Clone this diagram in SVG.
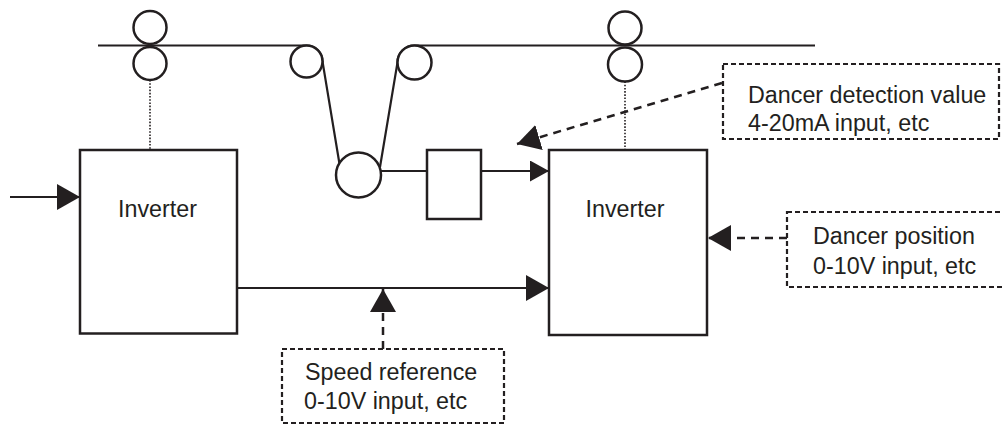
<svg xmlns="http://www.w3.org/2000/svg" width="1002" height="425" viewBox="0 0 1002 425">
  <style>
    .ln { fill: none; stroke: #231f20; stroke-width: 2.2; }
    .box { fill: #ffffff; stroke: #231f20; stroke-width: 2.5; }
    .roll { fill: #ffffff; stroke: #231f20; stroke-width: 2.5; }
    .dot { fill: none; stroke: #231f20; stroke-width: 1.6; stroke-dasharray: 1.6 1.6; }
    .dash { fill: none; stroke: #231f20; stroke-width: 2.5; stroke-dasharray: 8 6; }
    .note { fill: #ffffff; stroke: #231f20; stroke-width: 2.2; stroke-dasharray: 5 3; }
    text { font-family: "Liberation Sans", Arial, sans-serif; font-size: 23.3px; fill: #231f20; }
  </style>
  <defs>
    <marker id="arr" markerUnits="userSpaceOnUse" markerWidth="24" markerHeight="27" refX="23" refY="13" orient="auto">
      <path d="M0,0 L23,13 L0,26 z" fill="#231f20"/>
    </marker>
    <marker id="arrS" markerUnits="userSpaceOnUse" markerWidth="20" markerHeight="22" refX="19" refY="10.5" orient="auto">
      <path d="M0,0 L19,10.5 L0,21 z" fill="#231f20"/>
    </marker>
  </defs>

  <g id="web">
    <path class="ln" d="M98,45.5 H306.5 A16,16 0 0 1 322.5,61.5 L339.5,164"/>
    <path class="ln" d="M380,167 L397.5,62.5 A17,17 0 0 1 414.5,45.5 H815"/>
  </g>

  <g id="roller-left-pair">
    <circle class="roll" cx="150" cy="27.5" r="16.5"/>
    <circle class="roll" cx="150" cy="63.5" r="16.5"/>
  </g>
  <g id="roller-guide-1">
    <circle class="roll" cx="306.5" cy="61.5" r="16"/>
  </g>
  <g id="roller-guide-2">
    <circle class="roll" cx="414.5" cy="62.5" r="17"/>
  </g>
  <g id="roller-right-pair">
    <circle class="roll" cx="625" cy="28" r="16.5"/>
    <circle class="roll" cx="625" cy="64.5" r="17"/>
  </g>
  <g id="dancer-roller">
    <circle class="roll" cx="358.5" cy="175" r="22.5"/>
  </g>

  <g id="connectors">
    <line class="dot" x1="150" y1="80" x2="150" y2="150"/>
    <line class="dot" x1="625" y1="81.5" x2="625" y2="150"/>
    <line class="ln" x1="10" y1="197" x2="80" y2="197" marker-end="url(#arr)"/>
    <line class="ln" x1="381" y1="171" x2="427" y2="171"/>
    <line class="ln" x1="481" y1="171" x2="549" y2="171" marker-end="url(#arrS)"/>
    <line class="ln" x1="237" y1="288" x2="549" y2="288" marker-end="url(#arr)"/>
    <line class="dash" x1="383" y1="349" x2="383" y2="289" marker-end="url(#arr)"/>
    <line class="dash" x1="787" y1="238" x2="708" y2="238" marker-end="url(#arr)"/>
    <line class="dash" x1="722" y1="83" x2="517" y2="144" marker-end="url(#arr)"/>
  </g>

  <g id="inverter-left">
    <rect class="box" x="80" y="150" width="157" height="183.5"/>
    <text x="157.5" y="217" text-anchor="middle">Inverter</text>
  </g>
  <g id="inverter-right">
    <rect class="box" x="549" y="150" width="158" height="185"/>
    <text x="625" y="217" text-anchor="middle">Inverter</text>
  </g>
  <g id="detector">
    <rect class="box" x="427" y="150" width="54" height="69"/>
  </g>

  <g id="note-detection">
    <rect class="note" x="723" y="64" width="276" height="75"/>
    <text x="748" y="103">Dancer detection value</text>
    <text x="748" y="131">4-20mA input, etc</text>
  </g>
  <g id="note-position">
    <rect class="note" x="787" y="212" width="230" height="75"/>
    <text x="813" y="244">Dancer position</text>
    <text x="813" y="274">0-10V input, etc</text>
  </g>
  <g id="note-speed">
    <rect class="note" x="282" y="349" width="222" height="74"/>
    <text x="305" y="380">Speed reference</text>
    <text x="304" y="409">0-10V input, etc</text>
  </g>
</svg>
